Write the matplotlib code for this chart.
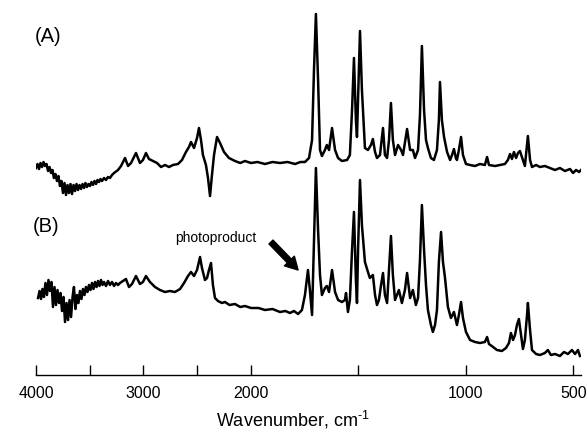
import numpy as np
import matplotlib
matplotlib.use("Agg")
import matplotlib.pyplot as plt

plt.rcParams['font.family'] = ['Liberation Sans', 'DejaVu Sans']
plt.rcParams['mathtext.fontset'] = 'custom'
plt.rcParams['mathtext.rm'] = 'Liberation Sans'
plt.rcParams['mathtext.it'] = 'Liberation Sans:italic'

# ---- data (wavenumber cm-1, relative intensity, arbitrary units) ----
wn_A = [4000, 3986, 3972, 3958, 3944, 3930, 3916, 3902, 3888, 3874, 3860, 3847, 3833, 3819,
        3805, 3791, 3777, 3763, 3749, 3735, 3721, 3707, 3693, 3679, 3665, 3651, 3637, 3623,
        3609, 3595, 3581, 3567, 3553, 3540, 3526, 3512, 3498, 3484, 3470, 3456, 3442, 3428,
        3414, 3400, 3386, 3367, 3349, 3330, 3312, 3293,
        3274, 3237, 3209, 3172,
        3144, 3116, 3070, 3033, 3005, 2977, 2949, 2912, 2874, 2837, 2800, 2763, 2726, 2679,
        2642, 2605, 2577, 2558, 2530, 2502, 2484, 2465, 2447, 2419, 2400, 2381, 2363, 2344,
        2316, 2288, 2251, 2205, 2149, 2100, 2056, 2000, 1970, 1935, 1900, 1865, 1830, 1795,
        1770, 1749, 1730, 1716, 1707,
        1698, 1688, 1679, 1670, 1656, 1647, 1637, 1623, 1609, 1595, 1577, 1553, 1540, 1530,
        1521, 1512, 1507, 1502, 1493, 1484, 1470, 1456, 1442, 1433, 1423, 1414, 1400, 1386,
        1377, 1367, 1358, 1349, 1340, 1330, 1316, 1302, 1293, 1274, 1260, 1247, 1237, 1223,
        1214, 1205, 1195, 1186, 1177, 1163, 1149, 1135, 1126, 1121, 1112, 1102, 1088, 1074,
        1065, 1056, 1047, 1042, 1033, 1023, 1014, 1000, 981, 958, 935, 912, 902, 893, 865,
        842, 819, 805, 795, 786, 777, 767, 758, 749, 735, 726, 716, 712, 702, 693, 674, 656,
        633, 609, 586, 563, 540, 516, 502, 488, 474, 465]
int_A = [207, 211, 206, 212, 208, 213, 209, 211, 204, 208, 202, 205, 197, 201,
         194, 199, 189, 194, 182, 192, 180, 190, 182, 191, 181, 190, 184, 191,
         185, 190, 186, 191, 187, 192, 188, 191, 189, 193, 190, 194, 191, 195,
         193, 196, 194, 197, 195, 198, 197, 200,
         202, 205, 209, 217,
         209, 212, 222, 212, 215, 222, 216, 214, 212, 208, 210, 208, 210, 211,
         215, 223, 228, 233, 227, 237, 247, 235, 220, 210, 197, 179, 200, 220,
         238, 232, 223, 217, 214, 212, 214, 212, 213, 211, 213, 212, 213, 211,
         213, 213, 217, 235, 305,
         361, 295, 225, 219, 225, 230, 225, 247, 225, 217, 214, 215, 220, 265,
         317, 255, 238, 275, 344, 285, 227, 225, 230, 236, 223, 217, 220, 247,
         220, 217, 235, 272, 235, 220, 230, 225, 220, 246, 225, 225, 217, 225,
         260, 329, 265, 235, 227, 217, 215, 225, 255, 293, 255, 238, 223, 215,
         220, 226, 217, 215, 225, 238, 220, 211, 210, 209, 211, 210, 218, 210, 209,
         210, 211, 215, 221, 216, 223, 217, 222, 224, 215, 209, 230, 239, 215, 208, 210, 208,
         209, 207, 205, 207, 204, 206, 202, 205, 203, 205]

wn_B = [3981, 3967, 3953, 3940, 3926, 3912, 3898, 3884, 3870, 3856, 3842, 3828, 3814, 3800,
        3786, 3772, 3758, 3744, 3730, 3716, 3702, 3688, 3674, 3660, 3647, 3633, 3619, 3605,
        3591, 3577, 3563, 3549, 3535, 3521, 3507, 3493, 3479, 3465, 3451, 3437, 3423, 3409,
        3395, 3381, 3367, 3349, 3330, 3312, 3293, 3274, 3256, 3237, 3219,
        3191, 3163, 3135, 3107, 3070, 3033, 3005, 2977, 2940, 2893, 2847,
        2800, 2754, 2707, 2660, 2623, 2586, 2558, 2530, 2502, 2474, 2456, 2428, 2409, 2391,
        2372, 2354, 2335, 2307, 2270, 2242, 2200, 2149, 2100, 2056, 2000, 1965, 1935, 1900,
        1865, 1840, 1819, 1800, 1781, 1763, 1749,
        1735, 1726, 1716, 1707, 1698, 1688, 1679, 1670, 1656, 1647, 1637, 1623, 1609, 1595,
        1577, 1563, 1558, 1549, 1540, 1530, 1521, 1512, 1507, 1502, 1493, 1484, 1470, 1456,
        1447, 1433, 1423, 1414, 1405, 1395, 1386, 1377, 1367, 1358, 1349, 1340, 1330, 1321,
        1312, 1298, 1284, 1274, 1260, 1247, 1233, 1223, 1214, 1205, 1195, 1186, 1177, 1163,
        1154, 1144, 1135, 1126, 1116, 1107, 1098, 1084, 1070, 1056, 1042, 1033, 1023, 1014,
        1000, 981, 958, 935, 912, 902, 893, 874, 856, 833, 814, 800, 791, 781, 772, 763, 754,
        744, 735, 726, 716, 712, 702, 693, 674, 656, 633, 619, 605, 586, 563, 544, 526, 507,
        493, 479, 470]
int_B = [77, 84, 76, 86, 78, 92, 80, 95, 84, 93, 68, 88, 70, 85,
         72, 82, 64, 78, 53, 72, 55, 75, 58, 78, 88, 66, 80, 72,
         84, 76, 86, 80, 88, 83, 90, 85, 92, 86, 93, 88, 94, 89,
         95, 90, 93, 89, 94, 90, 93, 89, 92, 90, 92,
         94, 96, 88, 91, 99, 91, 93, 99, 93, 88, 85,
         83, 84, 83, 86, 92, 99, 103, 99, 105, 118, 107, 95, 97, 105,
         112, 90, 77, 74, 72, 73, 70, 71, 68, 69, 67, 67, 65, 66,
         63, 64, 62, 64, 61, 65, 80,
         105, 85, 60, 135, 207, 145, 100, 80, 87, 89, 83, 105, 83, 75,
         73, 75, 82, 63, 75, 125, 163, 95, 72, 125, 195, 150, 113, 103,
         97, 100, 80, 70, 75, 90, 102, 80, 72, 105, 139, 100, 75, 80,
         85, 72, 85, 102, 77, 85, 70, 77, 115, 170, 125, 90, 65, 50,
         43, 50, 65, 113, 143, 113, 98, 68, 57, 63, 50, 60, 73, 57,
         43, 35, 33, 32, 33, 38, 31, 28, 25, 24, 27, 32, 42, 35, 40, 50, 56,
         40, 26, 35, 60, 72, 45, 25, 21, 20, 22, 25, 20, 21, 19, 23, 21, 25,
         21, 25, 19]

tick_pos = [4000, 3500, 3000, 2500, 2000, 1500, 1000, 500]
tick_lab = ['4000', '', '3000', '', '2000', '', '1000', '500']


# ---- piecewise wavenumber scale (2x expansion below 2000 cm-1) ----
def fwd(w):
    w = np.asarray(w, dtype=float)
    return np.where(w >= 2000, w / 1000.0, 2.0 + (w - 2000.0) / 500.0)


def inv(u):
    u = np.asarray(u, dtype=float)
    return np.where(u >= 2, u * 1000.0, 2000.0 + (u - 2.0) * 500.0)


fig = plt.figure(figsize=(5.86, 4.34), dpi=100)
ax = fig.add_axes([36 / 586, 59 / 434, 545 / 586, 375 / 434])
ax.set_xscale('function', functions=(fwd, inv))
ax.set_xlim(4000, 465)
ax.set_ylim(0, 375)

ax.plot(wn_A, int_A, color='black', lw=1.8, solid_joinstyle='round')
ax.plot(wn_B, int_B, color='black', lw=1.8, solid_joinstyle='round')

for s in ['left', 'right', 'top']:
    ax.spines[s].set_visible(False)
ax.spines['bottom'].set_linewidth(1.0)
ax.set_yticks([])
ax.set_xticks(tick_pos)
ax.set_xticklabels(tick_lab)
ax.xaxis.set_minor_locator(matplotlib.ticker.NullLocator())
ax.tick_params(axis='x', direction='in', length=7, width=1.0, pad=8,
               labelsize=11.5, colors='black')

ax.text(3888, 338, '(A)', fontsize=14.5, ha='center', va='center')
ax.text(3907, 149, '(B)', fontsize=14.5, ha='center', va='center')
ax.text(2326, 137, 'photoproduct', fontsize=10, ha='center', va='center')
ax.annotate('', xy=(1781, 105), xytext=(1907, 133),
            arrowprops=dict(arrowstyle='simple,head_width=1.0,head_length=0.9,tail_width=0.4',
                            fc='black', ec='black', shrinkA=0, shrinkB=0))

fig.text(293 / 586, 1 - 420 / 434, r'Wavenumber, cm$^{\text{-1}}$', fontsize=13,
         ha='center', va='center')

fig.savefig('out.png', dpi=100)
